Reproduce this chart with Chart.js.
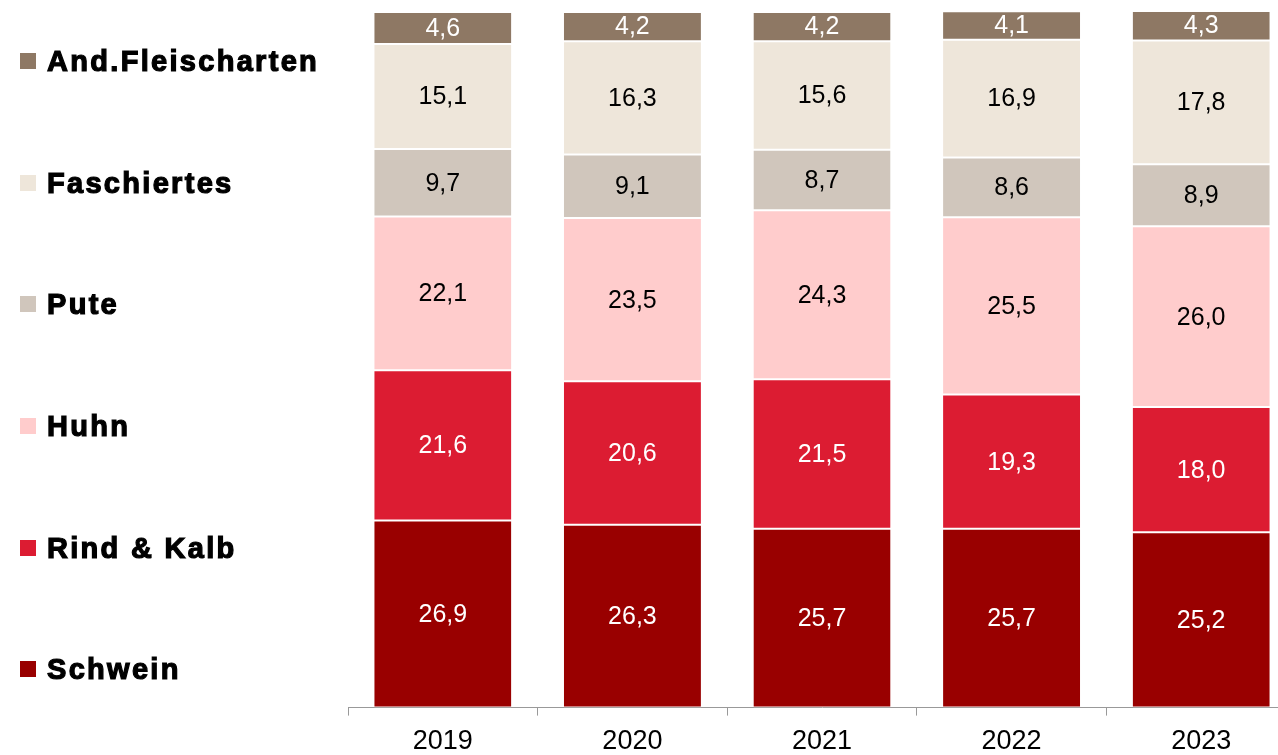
<!DOCTYPE html>
<html>
<head>
<meta charset="utf-8">
<script src="https://cdn.jsdelivr.net/npm/chart.js@4/dist/chart.umd.min.js"></script>
<style>
  html, body { margin: 0; padding: 0; background: #fff; overflow: hidden; width: 1278px; height: 755px; }
  #wrap { position: absolute; left: 0; top: 0; width: 1296px; height: 755px; overflow: hidden; }
  #legend { position: absolute; left: 0; top: 0; width: 340px; height: 755px; font-family: 'Liberation Sans', Arial, sans-serif; }
  .item { position: absolute; left: 20px; height: 34px; display: flex; align-items: center; }
  .sw { width: 16px; height: 16px; margin-right: 11px; }
  .lbl { font-size: 29px; font-weight: bold; letter-spacing: 2.3px; color: #000; -webkit-text-stroke: 1.2px #000; white-space: nowrap; }
</style>
</head>
<body>
<div id="wrap"><canvas id="c" width="1296" height="770"></canvas></div>
<div id="legend"></div>
<script>
const categories = ['2019', '2020', '2021', '2022', '2023'];
const seriesNames = ['Schwein', 'Rind & Kalb', 'Huhn', 'Pute', 'Faschiertes', 'And.Fleischarten'];
const schwein = [26.9, 26.3, 25.7, 25.7, 25.2];
const rindKalb = [21.6, 20.6, 21.5, 19.3, 18.0];
const huhn = [22.1, 23.5, 24.3, 25.5, 26.0];
const pute = [9.7, 9.1, 8.7, 8.6, 8.9];
const faschiertes = [15.1, 16.3, 15.6, 16.9, 17.8];
const andere = [4.6, 4.2, 4.2, 4.1, 4.3];
const seriesValues = [schwein, rindKalb, huhn, pute, faschiertes, andere];
const colors = ['#990000', '#DC1C32', '#FFCCCC', '#D0C6BC', '#EEE6DA', '#8E7864'];
const labelColors = ['#ffffff', '#ffffff', '#000000', '#000000', '#000000', '#ffffff'];

// legend (top to bottom reversed order)
const legendTops = [669, 548, 426, 304, 183, 61];
const legend = document.getElementById('legend');
seriesNames.forEach((n, i) => {
  const d = document.createElement('div');
  d.className = 'item';
  d.style.top = (legendTops[i] - 17) + 'px';
  d.innerHTML = '<div class="sw" style="background:' + colors[i] + '"></div><div class="lbl"></div>';
  d.querySelector('.lbl').textContent = n;
  legend.appendChild(d);
});

const valueLabels = {
  id: 'valueLabels',
  afterDatasetsDraw(chart) {
    const ctx = chart.ctx;
    ctx.save();
    ctx.font = '25px "Liberation Sans", Arial, sans-serif';
    ctx.textAlign = 'center';
    ctx.textBaseline = 'middle';
    chart.data.datasets.forEach((ds, di) => {
      const meta = chart.getDatasetMeta(di);
      meta.data.forEach((el, i) => {
        const v = ds.data[i];
        const y = (el.y + el.base) / 2;
        ctx.fillStyle = labelColors[di];
        ctx.fillText(v.toFixed(1).replace('.', ','), el.x, y + 1);
      });
    });
    ctx.restore();
  }
};

new Chart(document.getElementById('c'), {
  type: 'bar',
  data: {
    labels: categories,
    datasets: seriesNames.map((n, i) => ({
      label: n,
      data: seriesValues[i],
      backgroundColor: colors[i],
      borderColor: '#ffffff',
      borderWidth: { top: 1, bottom: 1, left: 0, right: 0 },
      borderSkipped: false,
      barPercentage: 0.723,
      categoryPercentage: 1.0
    }))
  },
  options: {
    responsive: false,
    animation: false,
    layout: { padding: { left: 348, right: 0, top: 12, bottom: 2 } },
    plugins: { legend: { display: false }, tooltip: { enabled: false } },
    scales: {
      x: {
        stacked: true,
        border: { display: true, color: '#999999', width: 1 },
        grid: { display: true, offset: true, drawOnChartArea: false, drawTicks: true, tickLength: 8, color: '#999999' },
        ticks: { color: '#000', font: { size: 27, family: '"Liberation Sans", Arial, sans-serif' }, padding: 10, maxRotation: 0 }
      },
      y: {
        stacked: true,
        display: false,
        min: 0,
        max: 100
      }
    }
  },
  plugins: [valueLabels]
});
</script>
</body>
</html>
